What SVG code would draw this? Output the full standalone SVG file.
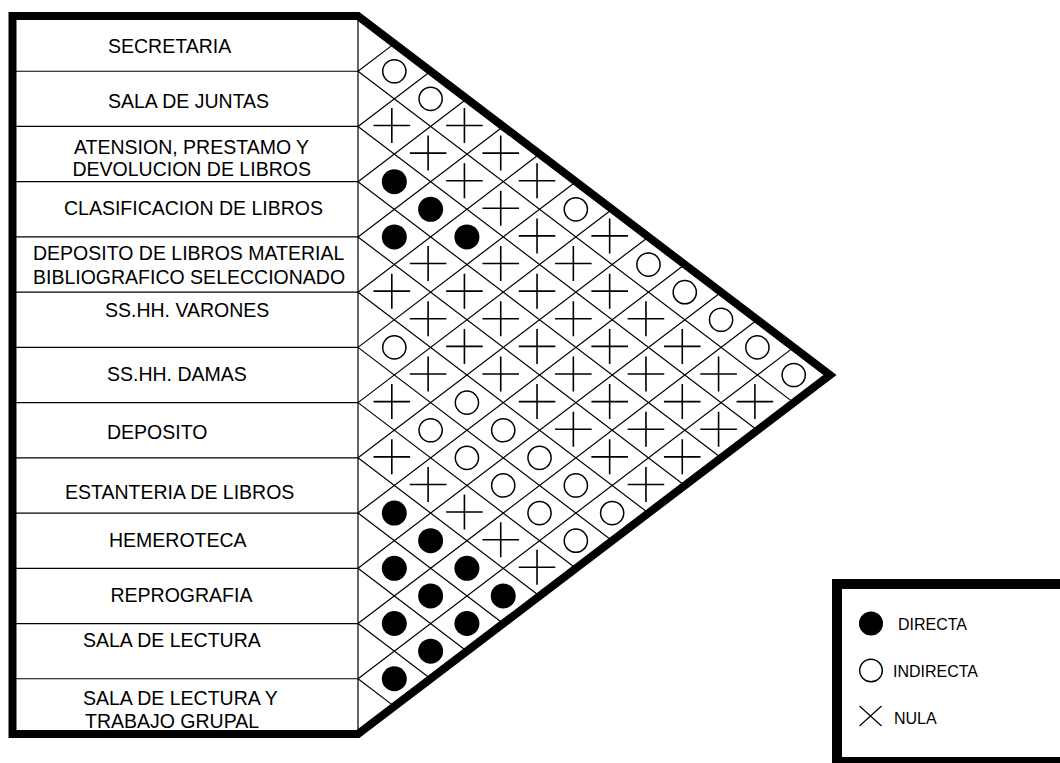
<svg xmlns="http://www.w3.org/2000/svg" width="1060" height="763" viewBox="0 0 1060 763">
<style>
.lbl{font-family:"Liberation Sans",Arial,sans-serif;font-size:19.5px;fill:#000}
.lg{font-family:"Liberation Sans",Arial,sans-serif;font-size:16px;fill:#000}
.thin{stroke:#000;stroke-width:1.2;fill:none}
.thick{stroke:#000;stroke-width:8;fill:none;stroke-linejoin:miter}
</style>
<defs>
<circle id="f" r="12.5" fill="#000"/>
<circle id="o" r="11.6" fill="none" stroke="#000" stroke-width="1.5"/>
<path id="x" d="M-20.8,-1H15.8M-2.5,-18.5V16.5" fill="none" stroke="#000" stroke-width="1.6"/>
</defs>
<rect width="1060" height="763" fill="#fff"/>

<g id="grid" class="thin">
<path d="M358,71.23H12M358,126.46H12M358,181.69H12M358,236.92H12M358,292.15H12M358,347.38H12M358,402.61H12M358,457.84H12M358,513.07H12M358,568.3H12M358,623.53H12M358,678.76H12M358,16V734"/>
<path d="M358,71.23L394.31,43.62M358,126.46L430.62,71.23M358,181.69L466.92,98.85M358,236.92L503.23,126.46M358,292.15L539.54,154.08M358,347.38L575.85,181.69M358,402.61L612.16,209.31M358,457.84L648.46,236.92M358,513.07L684.77,264.54M358,568.3L721.08,292.15M358,623.53L757.39,319.77M358,678.76L793.7,347.38"/>
<path d="M358,71.23L793.7,402.61M358,126.46L757.39,430.23M358,181.69L721.08,457.84M358,236.92L684.77,485.46M358,292.15L648.46,513.07M358,347.38L612.16,540.69M358,402.61L575.85,568.3M358,457.84L539.54,595.92M358,513.07L503.23,623.53M358,568.3L466.92,651.15M358,623.53L430.62,678.76M358,678.76L394.31,706.38"/>
</g>

<g id="cells">
<use href="#o" x="394.31" y="71.23"/>
<use href="#x" x="394.31" y="126.46"/>
<use href="#f" x="394.31" y="181.69"/>
<use href="#f" x="394.31" y="236.92"/>
<use href="#x" x="394.31" y="292.15"/>
<use href="#o" x="394.31" y="347.38"/>
<use href="#x" x="394.31" y="402.61"/>
<use href="#x" x="394.31" y="457.84"/>
<use href="#f" x="394.31" y="513.07"/>
<use href="#f" x="394.31" y="568.3"/>
<use href="#f" x="394.31" y="623.53"/>
<use href="#f" x="394.31" y="678.76"/>

<use href="#o" x="430.62" y="98.85"/>
<use href="#x" x="430.62" y="154.08"/>
<use href="#f" x="430.62" y="209.31"/>
<use href="#x" x="430.62" y="264.54"/>
<use href="#x" x="430.62" y="319.77"/>
<use href="#x" x="430.62" y="375"/>
<use href="#o" x="430.62" y="430.23"/>
<use href="#x" x="430.62" y="485.46"/>
<use href="#f" x="430.62" y="540.69"/>
<use href="#f" x="430.62" y="595.92"/>
<use href="#f" x="430.62" y="651.15"/>

<use href="#x" x="466.92" y="126.46"/>
<use href="#x" x="466.92" y="181.69"/>
<use href="#f" x="466.92" y="236.92"/>
<use href="#x" x="466.92" y="292.15"/>
<use href="#x" x="466.92" y="347.38"/>
<use href="#o" x="466.92" y="402.61"/>
<use href="#o" x="466.92" y="457.84"/>
<use href="#x" x="466.92" y="513.07"/>
<use href="#f" x="466.92" y="568.3"/>
<use href="#f" x="466.92" y="623.53"/>

<use href="#x" x="503.23" y="154.08"/>
<use href="#x" x="503.23" y="209.31"/>
<use href="#x" x="503.23" y="264.54"/>
<use href="#x" x="503.23" y="319.77"/>
<use href="#x" x="503.23" y="375"/>
<use href="#o" x="503.23" y="430.23"/>
<use href="#o" x="503.23" y="485.46"/>
<use href="#x" x="503.23" y="540.69"/>
<use href="#f" x="503.23" y="595.92"/>

<use href="#x" x="539.54" y="181.69"/>
<use href="#x" x="539.54" y="236.92"/>
<use href="#x" x="539.54" y="292.15"/>
<use href="#x" x="539.54" y="347.38"/>
<use href="#x" x="539.54" y="402.61"/>
<use href="#o" x="539.54" y="457.84"/>
<use href="#o" x="539.54" y="513.07"/>
<use href="#x" x="539.54" y="568.3"/>

<use href="#o" x="575.85" y="209.31"/>
<use href="#x" x="575.85" y="264.54"/>
<use href="#x" x="575.85" y="319.77"/>
<use href="#x" x="575.85" y="375"/>
<use href="#x" x="575.85" y="430.23"/>
<use href="#o" x="575.85" y="485.46"/>
<use href="#o" x="575.85" y="540.69"/>

<use href="#x" x="612.16" y="236.92"/>
<use href="#x" x="612.16" y="292.15"/>
<use href="#x" x="612.16" y="347.38"/>
<use href="#x" x="612.16" y="402.61"/>
<use href="#x" x="612.16" y="457.84"/>
<use href="#o" x="612.16" y="513.07"/>

<use href="#o" x="648.46" y="264.54"/>
<use href="#x" x="648.46" y="319.77"/>
<use href="#x" x="648.46" y="375"/>
<use href="#x" x="648.46" y="430.23"/>
<use href="#x" x="648.46" y="485.46"/>

<use href="#o" x="684.77" y="292.15"/>
<use href="#x" x="684.77" y="347.38"/>
<use href="#x" x="684.77" y="402.61"/>
<use href="#x" x="684.77" y="457.84"/>

<use href="#o" x="721.08" y="319.77"/>
<use href="#x" x="721.08" y="375"/>
<use href="#x" x="721.08" y="430.23"/>

<use href="#o" x="757.39" y="347.38"/>
<use href="#x" x="757.39" y="402.61"/>

<use href="#o" x="793.7" y="375"/>
</g>

<g id="outline">
<polygon class="thick" points="12.5,16 358,16 830,375 358,734 12.5,734"/>
</g>

<g id="labels">
<g id="n-secretaria"><text class="lbl" x="108" y="53">SECRETARIA</text></g>
<g id="n-sala-juntas"><text class="lbl" x="108" y="108">SALA DE JUNTAS</text></g>
<g id="n-atension"><text class="lbl" x="74" y="153.5">ATENSION, PRESTAMO Y</text><text class="lbl" x="72.5" y="175.5">DEVOLUCION DE LIBROS</text></g>
<g id="n-clasificacion"><text class="lbl" x="64" y="215">CLASIFICACION DE LIBROS</text></g>
<g id="n-deposito-libros"><text class="lbl" x="33" y="260">DEPOSITO DE LIBROS MATERIAL</text><text class="lbl" x="33" y="284">BIBLIOGRAFICO SELECCIONADO</text></g>
<g id="n-sshh-varones"><text class="lbl" x="105" y="317">SS.HH. VARONES</text></g>
<g id="n-sshh-damas"><text class="lbl" x="107" y="381">SS.HH. DAMAS</text></g>
<g id="n-deposito"><text class="lbl" x="107" y="439">DEPOSITO</text></g>
<g id="n-estanteria"><text class="lbl" x="65" y="499">ESTANTERIA DE LIBROS</text></g>
<g id="n-hemeroteca"><text class="lbl" x="109" y="547">HEMEROTECA</text></g>
<g id="n-reprografia"><text class="lbl" x="110.5" y="602">REPROGRAFIA</text></g>
<g id="n-sala-lectura"><text class="lbl" x="83" y="647">SALA DE LECTURA</text></g>
<g id="n-sala-lectura-grupal"><text class="lbl" x="83" y="705">SALA DE LECTURA Y</text><text class="lbl" x="85" y="728">TRABAJO GRUPAL</text></g>
</g>

<g id="legend">
<rect x="837" y="584" width="240" height="178" fill="none" stroke="#000" stroke-width="10"/>
<circle cx="871" cy="623.5" r="12" fill="#000"/>
<text class="lg" x="898" y="630">DIRECTA</text>
<circle cx="871" cy="670.5" r="11.3" fill="none" stroke="#000" stroke-width="1.4"/>
<text class="lg" x="893" y="676.5">INDIRECTA</text>
<path d="M859.5,706L881.5,726M859.5,726L881.5,706" fill="none" stroke="#000" stroke-width="1.2"/>
<text class="lg" x="894" y="723.5">NULA</text>
</g>
</svg>
